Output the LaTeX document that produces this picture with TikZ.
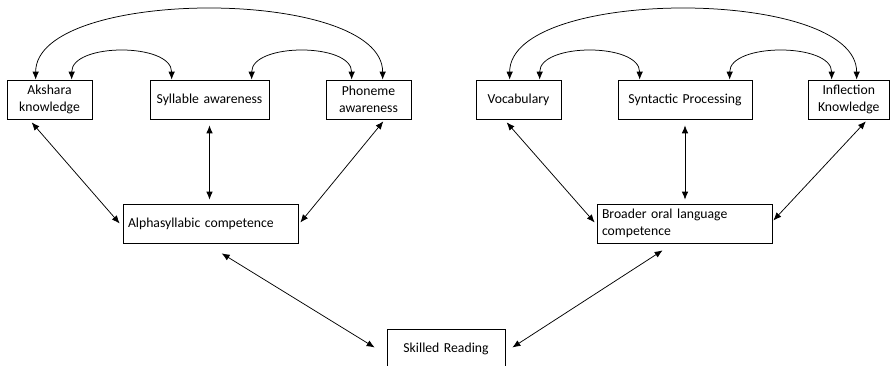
\documentclass[tikz,border=0pt]{standalone}
\usepackage{fontspec}
\setmainfont{Carlito}
\usetikzlibrary{arrows.meta,positioning}
\newcommand\BoxFont{\fontsize{13.7}{17.5}\selectfont}
\tikzset{
  box/.style={
    draw,
    line width = 0.7pt,
    inner xsep = 5pt,
    inner ysep = 0pt,
    minimum height = 39pt,
    align = center,
    font = \BoxFont
  },
  lbox/.style={
    box,
    align = left
  },
  link/.style={
    line width = 0.75pt,
    {Latex[length=8pt,width=6.5pt]}-{Latex[length=8pt,width=6.5pt]}
  },
}

\begin{document}
\begin{tikzpicture}[x=1pt,y=1pt]
    \useasboundingbox (0,0) rectangle (890,366);
    \def\Top{266.5};
    \def\Mid{142.5};

    % orthographic side
    \node[box, text width=75pt] (aks) at (49.5,\Top) {Akshara\\knowledge};
    \node[box, text width=109pt] (syl) at (209.5,\Top) {Syllable awareness};
    \node[box, text width=75pt] (pho) at (368.5,\Top) {Phoneme\\awareness};
    \node[lbox, text width=165pt] (alph) at (210.5,\Mid) {Alphasyllabic competence};

    % oral language side
    \node[box, text width=75pt] (voc) at (518.5,\Top) {Vocabulary};
    \node[box, text width=124pt] (syn) at (685,\Top) {Syntactic Processing};
    \node[box, text width=71.5pt] (infl) at (848.75,\Top) {Inflection\\Knowledge};
    \node[lbox, text width=165pt] (brd) at (684.5,\Mid) {Broader oral language\\competence};

    \node[box, text width=108pt] (read) at (446,17.5) {Skilled Reading};

    % arcs over the top row
    \draw[link] ([xshift=29pt]aks.north west) .. controls +(0,93) and +(0,93) .. ([xshift=57pt]pho.north west);
    \draw[link] ([xshift=65pt]aks.north west) .. controls +(0,37) and +(0,37) .. ([xshift=22pt]syl.north west);
    \draw[link] ([xshift=102pt]syl.north west) .. controls +(0,37) and +(0,37) .. ([xshift=26pt]pho.north west);

    \draw[link] ([xshift=34pt]voc.north west) .. controls +(0,93) and +(0,93) .. ([xshift=49pt]infl.north west);
    \draw[link] ([xshift=64pt]voc.north west) .. controls +(0,37) and +(0,37) .. ([xshift=22pt]syn.north west);
    \draw[link] ([xshift=112pt]syn.north west) .. controls +(0,37) and +(0,37) .. ([xshift=24pt]infl.north west);

    % links down to the middle row
    \draw[link] ([xshift=25pt,yshift=-3pt]aks.south west) -- ([xshift=-3pt]alph.west);
    \draw[link] ([yshift=-6pt]syl.south) -- ([yshift=4pt]syl.south |- alph.north);
    \draw[link] ([xshift=-28pt,yshift=-2pt]pho.south east) -- ([xshift=2pt,yshift=1pt]alph.east);

    \draw[link] ([xshift=31pt,yshift=-3pt]voc.south west) -- ([xshift=-2pt,yshift=1pt]brd.west);
    \draw[link] ([yshift=-6pt]syn.south) -- ([yshift=4pt]syn.south |- brd.north);
    \draw[link] ([xshift=-24pt,yshift=-2pt]infl.south east) -- ([xshift=1pt,yshift=3pt]brd.east);

    % links down to reading
    \draw[link] ([xshift=99pt,yshift=-10pt]alph.south west) -- ([xshift=-12pt,yshift=1pt]read.west);
    \draw[link] ([xshift=66pt,yshift=-7pt]brd.south west) -- ([xshift=7pt,yshift=1pt]read.east);
\end{tikzpicture}
\end{document}
